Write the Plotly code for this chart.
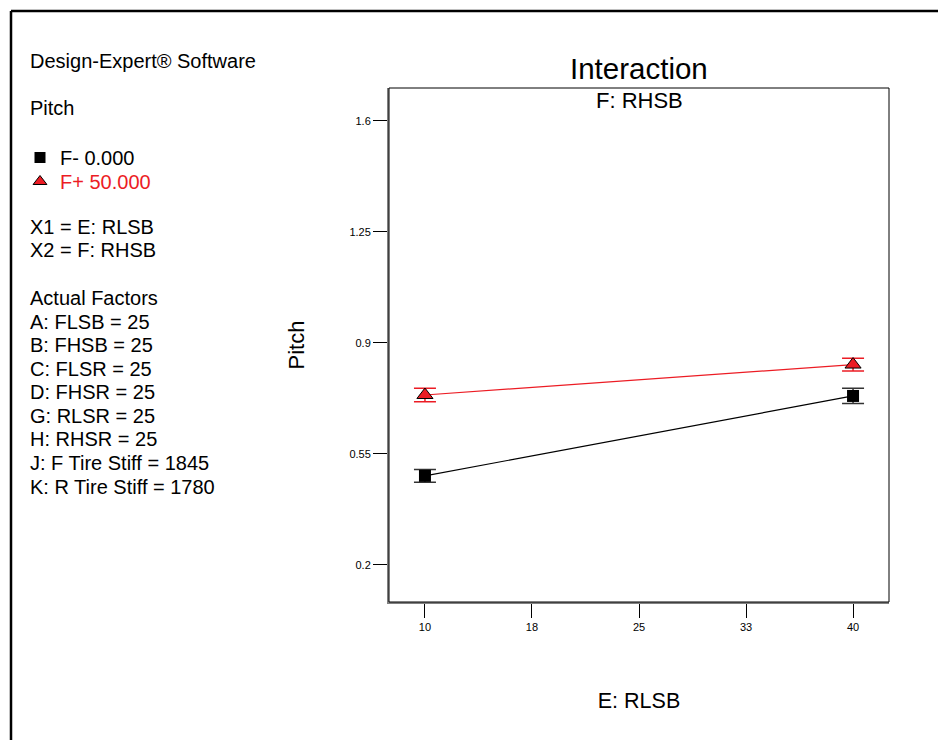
import plotly.graph_objects as go

# ---- data ----
x_levels = [10, 40]
f_minus = [0.481, 0.733]
f_minus_err = [0.020, 0.024]
f_plus = [0.736, 0.832]
f_plus_err = [0.021, 0.020]
x_tickvals = [10, 17.5, 25, 32.5, 40]
x_ticktext = ["10", "18", "25", "33", "40"]
y_tickvals = [0.2, 0.55, 0.9, 1.25, 1.6]
y_ticktext = ["0.2", "0.55", "0.9", "1.25", "1.6"]
series_names = ["F- 0.000", "F+ 50.000"]
info_lines = [
    ("Design-Expert® Software", 61),
    ("Pitch", 108),
    ("X1 = E: RLSB", 227),
    ("X2 = F: RHSB", 250),
    ("Actual Factors", 298),
    ("A: FLSB = 25", 322),
    ("B: FHSB = 25", 345),
    ("C: FLSR = 25", 369),
    ("D: FHSR = 25", 392),
    ("G: RLSR = 25", 416),
    ("H: RHSR = 25", 439),
    ("J: F Tire Stiff = 1845", 463),
    ("K: R Tire Stiff = 1780", 487),
]

RED = "#ec1c24"
FONT = "Liberation Sans, Arial, sans-serif"
OFF = 8  # page body margin
W, H = 946 - OFF, 740 - OFF
L, T = 389 - OFF, 88 - OFF
R = W - (889 - OFF)
B = H - (602 - OFF)
pw, ph = W - L - R, H - T - B

def px2x(px):
    return (px - OFF - L) / pw

def py2y(py):
    return (H - B - (py - OFF)) / ph

fig = go.Figure()

fig.add_trace(go.Scatter(
    x=x_levels, y=f_minus, mode="lines+markers",
    line=dict(color="black", width=1.2),
    marker=dict(symbol="square", size=12, color="black"),
    error_y=dict(type="data", array=f_minus_err, visible=True,
                 color="#333333", thickness=1.5, width=11),
    showlegend=False, cliponaxis=False))
fig.add_trace(go.Scatter(
    x=x_levels, y=f_plus, mode="lines+markers",
    line=dict(color=RED, width=1.2),
    marker=dict(symbol="triangle-up", size=14, color=RED,
                line=dict(color="black", width=1)),
    error_y=dict(type="data", array=f_plus_err, visible=True,
                 color=RED, thickness=1.5, width=11),
    showlegend=False, cliponaxis=False))

# legend entries (one per legend so each can be placed exactly)
fig.add_trace(go.Scatter(
    x=[None], y=[None], mode="markers", name=series_names[0], legend="legend",
    marker=dict(symbol="square", size=11, color="black")))
fig.add_trace(go.Scatter(
    x=[None], y=[None], mode="markers", legend="legend2",
    name=f"<span style='color:{RED}'>{series_names[1]}</span>",
    marker=dict(symbol="triangle-up", size=12, color=RED,
                line=dict(color="black", width=1))))

annotations = []
for txt, ypx in info_lines:
    annotations.append(dict(text=txt, x=px2x(28), y=py2y(ypx), xref="paper", yref="paper",
                            xanchor="left", yanchor="middle", showarrow=False,
                            font=dict(family=FONT, size=20, color="black")))
annotations.append(dict(text="Interaction", x=px2x(639), y=py2y(69), xref="paper", yref="paper",
                        xanchor="center", yanchor="middle", showarrow=False,
                        font=dict(family=FONT, size=29.5, color="black")))
annotations.append(dict(text="F: RHSB", x=px2x(639), y=py2y(100), xref="paper", yref="paper",
                        xanchor="center", yanchor="middle", showarrow=False,
                        font=dict(family=FONT, size=22, color="black")))

leg_common = dict(xanchor="left", yanchor="top", xref="paper", yref="paper",
                  font=dict(family=FONT, size=20, color="black"),
                  bgcolor="rgba(0,0,0,0)", itemwidth=30)

fig.update_layout(
    width=W, height=H,
    margin=dict(l=L, r=R, t=T, b=B),
    paper_bgcolor="white", plot_bgcolor="white",
    font=dict(family=FONT, color="black"),
    annotations=annotations,
    legend=dict(x=px2x(20), y=py2y(138), **leg_common),
    legend2=dict(x=px2x(20), y=py2y(162), **leg_common),
    shapes=[
        dict(type="rect", xref="paper", yref="paper", x0=0, y0=0, x1=1, y1=1,
             line=dict(color="black", width=1)),
        dict(type="line", xref="paper", yref="paper", x0=px2x(11), y0=py2y(11),
             x1=px2x(960), y1=py2y(11), line=dict(color="black", width=2.5)),
        dict(type="line", xref="paper", yref="paper", x0=px2x(11), y0=py2y(11),
             x1=px2x(11), y1=py2y(760), line=dict(color="black", width=2.5)),
    ],
)

fig.update_xaxes(
    range=[7.48, 42.52], tickmode="array", tickvals=x_tickvals, ticktext=x_ticktext,
    ticks="outside", ticklen=14, tickwidth=1, tickcolor="black",
    showline=True, linecolor="#808080", linewidth=2, showgrid=False, zeroline=False,
    tickfont=dict(family=FONT, size=11, color="black"),
    title=dict(text="E: RLSB", font=dict(family=FONT, size=21.5, color="black"), standoff=61),
)
fig.update_yaxes(
    range=[0.0833, 1.704], tickmode="array", tickvals=y_tickvals, ticktext=y_ticktext,
    ticks="outside", ticklen=14, tickwidth=1, tickcolor="black",
    showline=True, linecolor="#808080", linewidth=2, showgrid=False, zeroline=False,
    tickfont=dict(family=FONT, size=11, color="black"),
    title=dict(text="Pitch", font=dict(family=FONT, size=22, color="black"), standoff=39),
)

fig.write_html("out.html")
